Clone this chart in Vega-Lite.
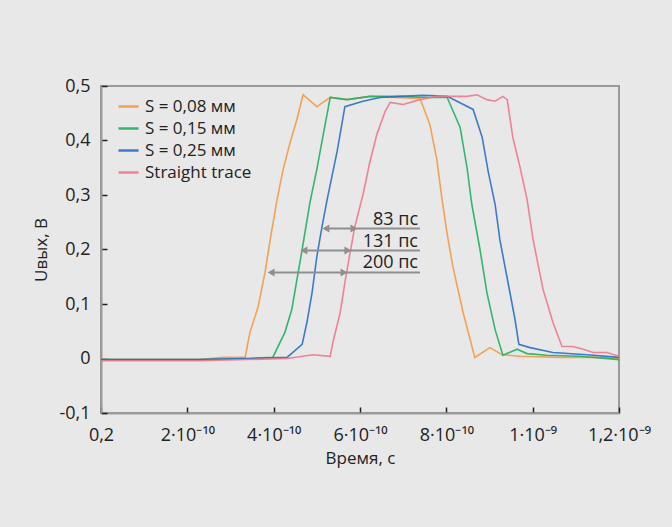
{
  "$schema": "https://vega.github.io/schema/vega-lite/v6.json",
  "width": 518,
  "height": 327,
  "autosize": {"type": "none"},
  "padding": {"left": 101, "top": 86, "right": 53, "bottom": 114},
  "background": "#e8e8e8",
  "config": {
    "font": "Open Sans",
    "view": {"stroke": "#9a9a9a", "strokeWidth": 2, "fill": "#e8e8e8"},
    "axis": {
      "domainColor": "#9a9a9a", "domainWidth": 2,
      "tickColor": "#222222", "tickWidth": 1.5, "tickSize": -6,
      "grid": false, "labelFontSize": 18, "labelColor": "#222222",
      "titleFontSize": 17, "titleFontWeight": "normal", "titleColor": "#222222",
      "labelFlush": false, "labelOverlap": false, "labelBound": false
    }
  },
  "datasets": {
    "curves": [
      {"series": "S = 0,08 мм", "t": 0, "v": -0.002},
      {"series": "S = 0,08 мм", "t": 1.135e-10, "v": -0.002},
      {"series": "S = 0,08 мм", "t": 2.29e-10, "v": -0.002},
      {"series": "S = 0,08 мм", "t": 2.83e-10, "v": 0.002},
      {"series": "S = 0,08 мм", "t": 3.34e-10, "v": 0.002},
      {"series": "S = 0,08 мм", "t": 3.45e-10, "v": 0.048},
      {"series": "S = 0,08 мм", "t": 3.64e-10, "v": 0.095},
      {"series": "S = 0,08 мм", "t": 3.80e-10, "v": 0.158},
      {"series": "S = 0,08 мм", "t": 3.92e-10, "v": 0.218},
      {"series": "S = 0,08 мм", "t": 4.08e-10, "v": 0.292},
      {"series": "S = 0,08 мм", "t": 4.22e-10, "v": 0.347},
      {"series": "S = 0,08 мм", "t": 4.38e-10, "v": 0.396},
      {"series": "S = 0,08 мм", "t": 4.54e-10, "v": 0.439},
      {"series": "S = 0,08 мм", "t": 4.68e-10, "v": 0.484},
      {"series": "S = 0,08 мм", "t": 5.00e-10, "v": 0.462},
      {"series": "S = 0,08 мм", "t": 5.31e-10, "v": 0.479},
      {"series": "S = 0,08 мм", "t": 5.70e-10, "v": 0.475},
      {"series": "S = 0,08 мм", "t": 6.23e-10, "v": 0.481},
      {"series": "S = 0,08 мм", "t": 6.81e-10, "v": 0.479},
      {"series": "S = 0,08 мм", "t": 7.39e-10, "v": 0.477},
      {"series": "S = 0,08 мм", "t": 7.62e-10, "v": 0.429},
      {"series": "S = 0,08 мм", "t": 7.78e-10, "v": 0.365},
      {"series": "S = 0,08 мм", "t": 7.90e-10, "v": 0.292},
      {"series": "S = 0,08 мм", "t": 8.02e-10, "v": 0.228},
      {"series": "S = 0,08 мм", "t": 8.15e-10, "v": 0.169},
      {"series": "S = 0,08 мм", "t": 8.39e-10, "v": 0.084},
      {"series": "S = 0,08 мм", "t": 8.66e-10, "v": 0.002},
      {"series": "S = 0,08 мм", "t": 9.01e-10, "v": 0.020},
      {"series": "S = 0,08 мм", "t": 9.29e-10, "v": 0.007},
      {"series": "S = 0,08 мм", "t": 9.71e-10, "v": 0.004},
      {"series": "S = 0,08 мм", "t": 10.63e-10, "v": 0.002},
      {"series": "S = 0,08 мм", "t": 11.56e-10, "v": 0.002},
      {"series": "S = 0,08 мм", "t": 12.0e-10, "v": 0.0},

      {"series": "S = 0,15 мм", "t": 0, "v": -0.002},
      {"series": "S = 0,15 мм", "t": 2.29e-10, "v": -0.002},
      {"series": "S = 0,15 мм", "t": 3.45e-10, "v": 0.0},
      {"series": "S = 0,15 мм", "t": 3.98e-10, "v": 0.002},
      {"series": "S = 0,15 мм", "t": 4.26e-10, "v": 0.048},
      {"series": "S = 0,15 мм", "t": 4.42e-10, "v": 0.090},
      {"series": "S = 0,15 мм", "t": 4.54e-10, "v": 0.145},
      {"series": "S = 0,15 мм", "t": 4.66e-10, "v": 0.200},
      {"series": "S = 0,15 мм", "t": 4.84e-10, "v": 0.286},
      {"series": "S = 0,15 мм", "t": 5.00e-10, "v": 0.347},
      {"series": "S = 0,15 мм", "t": 5.14e-10, "v": 0.407},
      {"series": "S = 0,15 мм", "t": 5.31e-10, "v": 0.479},
      {"series": "S = 0,15 мм", "t": 5.70e-10, "v": 0.475},
      {"series": "S = 0,15 мм", "t": 6.23e-10, "v": 0.481},
      {"series": "S = 0,15 мм", "t": 6.93e-10, "v": 0.481},
      {"series": "S = 0,15 мм", "t": 7.62e-10, "v": 0.479},
      {"series": "S = 0,15 мм", "t": 8.02e-10, "v": 0.479},
      {"series": "S = 0,15 мм", "t": 8.32e-10, "v": 0.424},
      {"series": "S = 0,15 мм", "t": 8.48e-10, "v": 0.350},
      {"series": "S = 0,15 мм", "t": 8.59e-10, "v": 0.283},
      {"series": "S = 0,15 мм", "t": 8.78e-10, "v": 0.200},
      {"series": "S = 0,15 мм", "t": 8.94e-10, "v": 0.121},
      {"series": "S = 0,15 мм", "t": 9.13e-10, "v": 0.053},
      {"series": "S = 0,15 мм", "t": 9.31e-10, "v": 0.006},
      {"series": "S = 0,15 мм", "t": 9.64e-10, "v": 0.017},
      {"series": "S = 0,15 мм", "t": 9.87e-10, "v": 0.009},
      {"series": "S = 0,15 мм", "t": 10.33e-10, "v": 0.006},
      {"series": "S = 0,15 мм", "t": 11.10e-10, "v": 0.004},
      {"series": "S = 0,15 мм", "t": 12.0e-10, "v": -0.002},

      {"series": "S = 0,25 мм", "t": 0, "v": -0.002},
      {"series": "S = 0,25 мм", "t": 2.29e-10, "v": -0.002},
      {"series": "S = 0,25 мм", "t": 4.31e-10, "v": 0.002},
      {"series": "S = 0,25 мм", "t": 4.66e-10, "v": 0.026},
      {"series": "S = 0,25 мм", "t": 4.77e-10, "v": 0.066},
      {"series": "S = 0,25 мм", "t": 4.89e-10, "v": 0.121},
      {"series": "S = 0,25 мм", "t": 5.00e-10, "v": 0.187},
      {"series": "S = 0,25 мм", "t": 5.12e-10, "v": 0.242},
      {"series": "S = 0,25 мм", "t": 5.24e-10, "v": 0.292},
      {"series": "S = 0,25 мм", "t": 5.47e-10, "v": 0.380},
      {"series": "S = 0,25 мм", "t": 5.65e-10, "v": 0.462},
      {"series": "S = 0,25 мм", "t": 6.07e-10, "v": 0.472},
      {"series": "S = 0,25 мм", "t": 6.46e-10, "v": 0.479},
      {"series": "S = 0,25 мм", "t": 6.93e-10, "v": 0.481},
      {"series": "S = 0,25 мм", "t": 7.46e-10, "v": 0.483},
      {"series": "S = 0,25 мм", "t": 8.02e-10, "v": 0.481},
      {"series": "S = 0,25 мм", "t": 8.62e-10, "v": 0.457},
      {"series": "S = 0,25 мм", "t": 8.83e-10, "v": 0.406},
      {"series": "S = 0,25 мм", "t": 8.97e-10, "v": 0.343},
      {"series": "S = 0,25 мм", "t": 9.13e-10, "v": 0.283},
      {"series": "S = 0,25 мм", "t": 9.24e-10, "v": 0.218},
      {"series": "S = 0,25 мм", "t": 9.43e-10, "v": 0.139},
      {"series": "S = 0,25 мм", "t": 9.59e-10, "v": 0.072},
      {"series": "S = 0,25 мм", "t": 9.68e-10, "v": 0.026},
      {"series": "S = 0,25 мм", "t": 9.94e-10, "v": 0.020},
      {"series": "S = 0,25 мм", "t": 10.47e-10, "v": 0.011},
      {"series": "S = 0,25 мм", "t": 11.26e-10, "v": 0.007},
      {"series": "S = 0,25 мм", "t": 12.0e-10, "v": 0.002},

      {"series": "Straight trace", "t": 0, "v": -0.004},
      {"series": "Straight trace", "t": 2.29e-10, "v": -0.004},
      {"series": "Straight trace", "t": 4.31e-10, "v": 0.0},
      {"series": "Straight trace", "t": 4.91e-10, "v": 0.007},
      {"series": "Straight trace", "t": 5.31e-10, "v": 0.004},
      {"series": "Straight trace", "t": 5.37e-10, "v": 0.029},
      {"series": "Straight trace", "t": 5.54e-10, "v": 0.084},
      {"series": "Straight trace", "t": 5.65e-10, "v": 0.139},
      {"series": "Straight trace", "t": 5.77e-10, "v": 0.194},
      {"series": "Straight trace", "t": 5.88e-10, "v": 0.242},
      {"series": "Straight trace", "t": 6.07e-10, "v": 0.301},
      {"series": "Straight trace", "t": 6.23e-10, "v": 0.361},
      {"series": "Straight trace", "t": 6.39e-10, "v": 0.411},
      {"series": "Straight trace", "t": 6.58e-10, "v": 0.453},
      {"series": "Straight trace", "t": 6.70e-10, "v": 0.470},
      {"series": "Straight trace", "t": 7.00e-10, "v": 0.466},
      {"series": "Straight trace", "t": 7.39e-10, "v": 0.475},
      {"series": "Straight trace", "t": 7.78e-10, "v": 0.481},
      {"series": "Straight trace", "t": 8.15e-10, "v": 0.481},
      {"series": "Straight trace", "t": 8.48e-10, "v": 0.481},
      {"series": "Straight trace", "t": 8.71e-10, "v": 0.484},
      {"series": "Straight trace", "t": 8.94e-10, "v": 0.475},
      {"series": "Straight trace", "t": 9.13e-10, "v": 0.472},
      {"series": "Straight trace", "t": 9.31e-10, "v": 0.481},
      {"series": "Straight trace", "t": 9.41e-10, "v": 0.475},
      {"series": "Straight trace", "t": 9.54e-10, "v": 0.406},
      {"series": "Straight trace", "t": 9.71e-10, "v": 0.350},
      {"series": "Straight trace", "t": 9.87e-10, "v": 0.292},
      {"series": "Straight trace", "t": 10.01e-10, "v": 0.218},
      {"series": "Straight trace", "t": 10.24e-10, "v": 0.127},
      {"series": "Straight trace", "t": 10.47e-10, "v": 0.066},
      {"series": "Straight trace", "t": 10.68e-10, "v": 0.022},
      {"series": "Straight trace", "t": 10.93e-10, "v": 0.022},
      {"series": "Straight trace", "t": 11.17e-10, "v": 0.017},
      {"series": "Straight trace", "t": 11.40e-10, "v": 0.011},
      {"series": "Straight trace", "t": 11.72e-10, "v": 0.011},
      {"series": "Straight trace", "t": 12.0e-10, "v": 0.004}
    ],
    "arrows": [
      {"label": "83 пс", "y": 0.2385, "x1": 5.21e-10, "x2": 7.39e-10},
      {"label": "131 пс", "y": 0.198, "x1": 4.70e-10, "x2": 7.39e-10},
      {"label": "200 пс", "y": 0.158, "x1": 3.94e-10, "x2": 7.39e-10}
    ],
    "heads": [
      {"x": 5.21e-10, "y": 0.2385, "dir": "left"},
      {"x": 5.86e-10, "y": 0.2385, "dir": "right"},
      {"x": 4.70e-10, "y": 0.198, "dir": "left"},
      {"x": 5.72e-10, "y": 0.198, "dir": "right"},
      {"x": 3.94e-10, "y": 0.158, "dir": "left"},
      {"x": 5.63e-10, "y": 0.158, "dir": "right"}
    ]
  },
  "layer": [
    {
      "data": {"name": "curves"},
      "mark": {"type": "line", "strokeWidth": 1.6, "opacity": 0.9},
      "encoding": {
        "x": {
          "field": "t", "type": "quantitative",
          "scale": {"domain": [0, 1.2e-9], "nice": false, "zero": false},
          "axis": {
            "values": [0, 2e-10, 4e-10, 6e-10, 8e-10, 1e-9, 1.2e-9],
            "labelExpr": "datum.value < 1e-10 ? '0,2' : datum.value < 3e-10 ? '2·10⁻¹⁰' : datum.value < 5e-10 ? '4·10⁻¹⁰' : datum.value < 7e-10 ? '6·10⁻¹⁰' : datum.value < 9e-10 ? '8·10⁻¹⁰' : datum.value < 1.1e-9 ? '1·10⁻⁹' : '1,2·10⁻⁹'",
            "labelPadding": 19,
            "title": "Время, с",
            "titlePadding": 6
          }
        },
        "y": {
          "field": "v", "type": "quantitative",
          "scale": {"domain": [-0.1, 0.5], "nice": false, "zero": false},
          "axis": {
            "values": [-0.1, 0, 0.1, 0.2, 0.3, 0.4, 0.5],
            "labelExpr": "datum.value == 0 ? '0' : datum.value < 0 ? '-0,1' : replace(format(datum.value, '.1f'), '.', ',')",
            "labelPadding": 17,
            "title": "Uвых, В",
            "titlePadding": 8
          }
        },
        "color": {
          "field": "series", "type": "nominal",
          "scale": {
            "domain": ["S = 0,08 мм", "S = 0,15 мм", "S = 0,25 мм", "Straight trace"],
            "range": ["#f39a45", "#1fb060", "#2a6fc4", "#f0788a"]
          },
          "legend": {
            "orient": "none", "legendX": 16, "legendY": 9, "title": null,
            "symbolType": "stroke", "symbolSize": 400, "symbolStrokeWidth": 2.5,
            "labelFontSize": 17, "labelColor": "#222222", "labelOffset": 5,
            "rowPadding": 2, "padding": 0
          }
        }
      }
    },
    {
      "data": {"name": "arrows"},
      "mark": {"type": "rule", "color": "#8f8f8f", "strokeWidth": 2},
      "encoding": {
        "x": {"field": "x1", "type": "quantitative"},
        "x2": {"field": "x2"},
        "y": {"field": "y", "type": "quantitative"}
      }
    },
    {
      "data": {"name": "heads"},
      "mark": {"type": "point", "filled": true, "color": "#8f8f8f", "size": 64, "opacity": 1},
      "encoding": {
        "x": {"field": "x", "type": "quantitative"},
        "y": {"field": "y", "type": "quantitative"},
        "shape": {"field": "dir", "type": "nominal", "scale": {"domain": ["left", "right"], "range": ["triangle-left", "triangle-right"]}, "legend": null}
      }
    },
    {
      "data": {"name": "arrows"},
      "mark": {"type": "text", "align": "right", "baseline": "alphabetic", "dx": -2, "dy": -4, "fontSize": 18, "color": "#222222"},
      "encoding": {
        "x": {"field": "x2", "type": "quantitative"},
        "y": {"field": "y", "type": "quantitative"},
        "text": {"field": "label"}
      }
    }
  ]
}
